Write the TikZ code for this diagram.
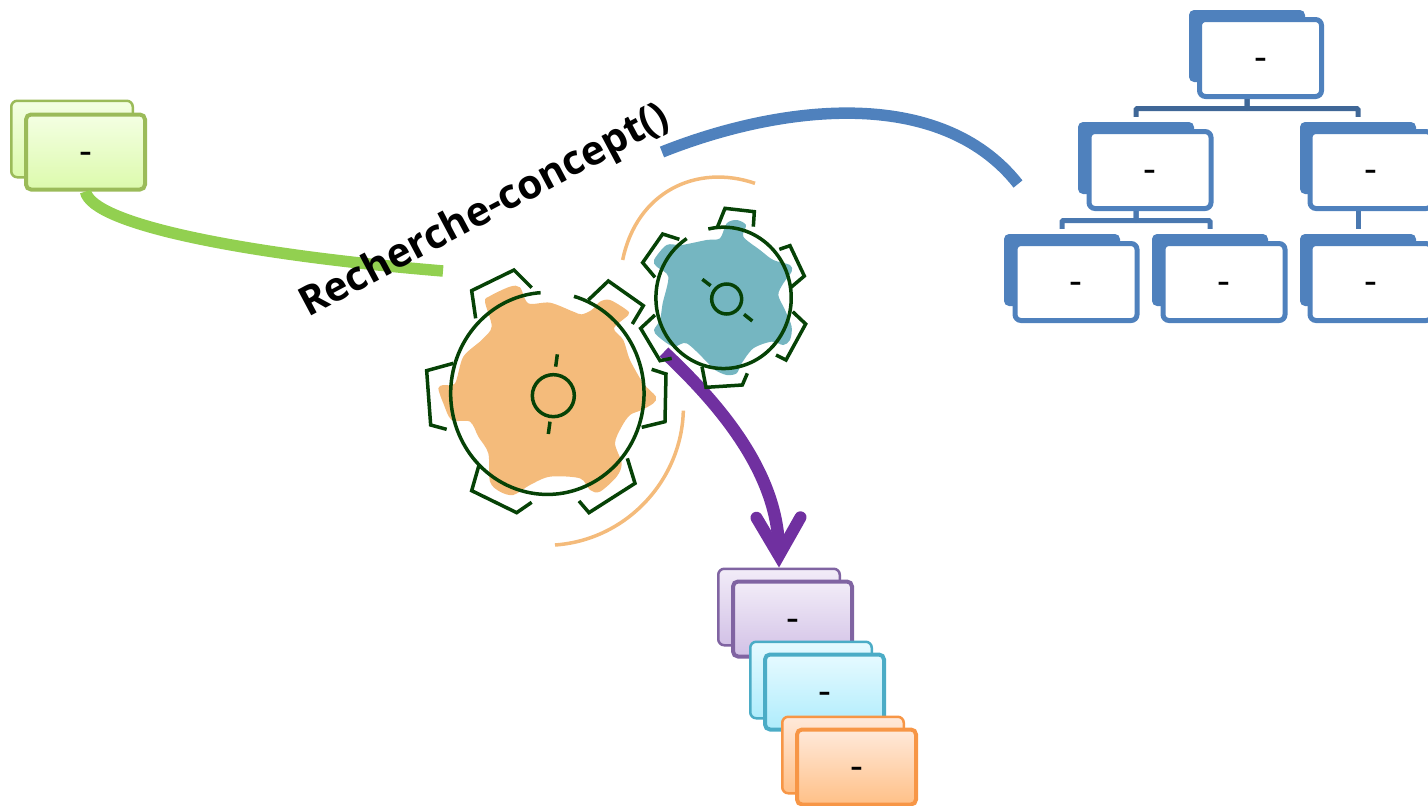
\documentclass[tikz,border=0pt]{standalone}
\usepackage{fontspec}
\setmainfont{Open Sans}
\usetikzlibrary{arrows.meta}
\definecolor{gearorange}{HTML}{F4BB7B}
\definecolor{gearteal}{HTML}{75B6C1}
\definecolor{gearline}{HTML}{064206}
\definecolor{linkgreen}{HTML}{92D050}
\definecolor{linkblue}{HTML}{4F81BD}
\definecolor{linkpurple}{HTML}{7030A0}
\definecolor{treedark}{HTML}{3F6797}
\definecolor{treelight}{HTML}{4A78B0}
\definecolor{greenedge}{HTML}{9BBB59}
\definecolor{greentop}{HTML}{F4FFE3}
\definecolor{greenbot}{HTML}{DCFAAC}
\definecolor{purpleedge}{HTML}{8064A2}
\definecolor{purpletop}{HTML}{F2ECF8}
\definecolor{purplebot}{HTML}{D2C1E6}
\definecolor{cyanedge}{HTML}{4BACC6}
\definecolor{cyantop}{HTML}{E6FAFF}
\definecolor{cyanbot}{HTML}{AEECFC}
\definecolor{orangeedge}{HTML}{F79646}
\definecolor{orangetop}{HTML}{FFE9DA}
\definecolor{orangebot}{HTML}{FFC087}
\tikzset{
  dashlabel/.style={font=\fontsize{40}{40}\selectfont,text height=24pt,text depth=0pt},
  cardback/.style n args={3}{draw=#1,top color=#2,bottom color=#3,line width=2.5pt,rounded corners=6pt,
    minimum width=121.5pt,minimum height=76.5pt,inner sep=0pt},
  cardfront/.style n args={3}{draw=#1,top color=#2,bottom color=#3,line width=4pt,rounded corners=5pt,
    minimum width=119pt,minimum height=75pt,inner sep=0pt,dashlabel},
  treeback/.style={fill=linkblue,rounded corners=5pt,minimum width=116pt,minimum height=72pt,inner sep=0pt},
  treefront/.style={draw=linkblue,fill=white,line width=5pt,rounded corners=6pt,
    minimum width=122pt,minimum height=77pt,inner sep=0pt,dashlabel},
  treelink/.style={line width=5pt,rounded corners=1pt,shorten >=5pt},
  gearstroke/.style={draw=gearline,line width=3.5pt},
  swing/.style={draw=gearorange,line width=3.5pt},
}
\begin{document}
\begin{tikzpicture}[x=1pt,y=-1pt]
  \useasboundingbox (0,0) rectangle (1428,806);

  \node[cardback={greenedge}{greentop}{greenbot}] (sourceback) at (72,139) {};
  \node[cardfront={greenedge}{greentop}{greenbot}] (sourcefront) at (85.5,152) {-};

  \node[treeback] (rootback) at (1247,46) {};
  \node[treeback] (leftback) at (1136,158) {};
  \node[treeback] (rightback) at (1358,158) {};
  \node[treeback] (leafoneback) at (1062,270) {};
  \node[treeback] (leaftwoback) at (1210,270) {};
  \node[treeback] (leafthreeback) at (1358,270) {};
  \draw[treelink,draw=treedark] (rootback.south) -- ++(0,26.5) -| (leftback.north);
  \draw[treelink,draw=treedark] (rootback.south) -- ++(0,26.5) -| (rightback.north);
  \draw[treelink,draw=treelight] (leftback.south) -- ++(0,26.5) -| (leafoneback.north);
  \draw[treelink,draw=treelight] (leftback.south) -- ++(0,26.5) -| (leaftwoback.north);
  \draw[treelink,draw=treelight] (rightback.south) -- (leafthreeback.north);
  \node[treefront] (rootfront) at (1260.5,58) {-};
  \node[treefront] (leftfront) at (1150,170) {-};
  \node[treefront] (rightfront) at (1371,170) {-};
  \node[treefront] (leafonefront) at (1076,282) {-};
  \node[treefront] (leaftwofront) at (1224,282) {-};
  \node[treefront] (leafthreefront) at (1371,282) {-};

  \node[cardback={purpleedge}{purpletop}{purplebot}] (purpleback) at (779,607) {};
  \node[cardfront={purpleedge}{purpletop}{purplebot}] (purplefront) at (792.5,619) {-};
  \node[cardback={cyanedge}{cyantop}{cyanbot}] (cyanback) at (811,680) {};
  \node[cardfront={cyanedge}{cyantop}{cyanbot}] (cyanfront) at (824.5,692) {-};
  \node[cardback={orangeedge}{orangetop}{orangebot}] (orangeback) at (843,755) {};
  \node[cardfront={orangeedge}{orangetop}{orangebot}] (orangefront) at (856.5,767) {-};

  \coordinate (greenend) at (443,271);
  \coordinate (blueleft) at (662,152);
  \coordinate (blueright) at (1018,184);
  \coordinate (purplestart) at (664,352);
  \draw[linkgreen,line width=11.5pt] (sourcefront.south) .. controls (92,225) and (250,255) .. (greenend);
  \draw[linkblue,line width=11.5pt] (blueleft) .. controls (780,105) and (940,85) .. (blueright);

  \begin{scope}[shift={(410,170)},scale=1/3]
    \fill[gearorange] plot[smooth cycle,tension=.5] coordinates {(225,395) (240,378) (300,350) (330,352) (355,400)
      (420,398) (490,425) (515,433) (545,420) (570,395) (600,390) (650,420) (655,435) (612,475) (640,510) (660,570)
      (700,640) (738,680) (730,700) (695,720) (660,735) (635,770) (615,820) (635,880) (620,920) (570,965) (540,960)
      (510,925) (420,920) (360,945) (310,975) (270,965) (240,935) (235,850) (205,800) (180,755) (125,750) (100,700)
      (85,655) (100,645) (135,640) (160,560) (215,510) (245,470)};
    \fill[gearteal] plot[smooth cycle,tension=.5] coordinates {(732,270) (770,225) (815,225) (890,210) (930,205)
      (950,160) (980,150) (1008,165) (1000,200) (1050,240) (1090,270) (1140,285) (1145,305) (1120,340) (1105,375)
      (1125,420) (1145,470) (1140,510) (1120,525) (1085,515) (1030,535) (995,580) (980,610) (950,615) (915,600)
      (890,575) (830,520) (790,530) (745,500) (732,480) (750,450) (758,400) (775,320) (740,290)};
  \end{scope}

  \draw[linkpurple,line width=12.5pt,-{Straight Barb[length=38pt,width=44pt,line width=12pt,line cap=round,line join=miter]}]
    (purplestart) .. controls (715,400) and (778,470) .. (purpleback.north);

  \begin{scope}[shift={(410,170)},scale=1/3]
    \draw[gearstroke] (492,379) arc[start angle=-74,end angle=266,x radius=290,y radius=303];
    \draw[gearstroke] (430,677) circle[radius=63];
    \draw[gearstroke] (442,553) -- (437,590);
    \draw[gearstroke] (420,755) -- (415,792);
    \draw[gearstroke] (197,445) -- (185,362) -- (312,300) -- (365,353);
    \draw[gearstroke] (535,390) -- (595,333) -- (700,407) -- (667,462);
    \draw[gearstroke] (725,598) -- (768,612) -- (765,755) -- (695,772);
    \draw[gearstroke] (652,865) -- (675,940) -- (537,1028) -- (507,993);
    \draw[gearstroke] (365,997) -- (320,1028) -- (185,962) -- (207,885);
    \draw[gearstroke] (110,778) -- (62,765) -- (50,602) -- (130,580);

    \draw[gearstroke] (895,177) arc[start angle=-103,end angle=237,x radius=203,y radius=212];
    \draw[gearstroke] (950,387) circle[radius=45];
    \draw[gearstroke] (877,328) -- (902,347);
    \draw[gearstroke] (1002,433) -- (1027,453);
    \draw[gearstroke] (922,172) -- (945,115) -- (1033,125) -- (1030,170);
    \draw[gearstroke] (1108,238) -- (1140,227) -- (1183,318) -- (1143,352);
    \draw[gearstroke] (1148,425) -- (1187,462) -- (1128,570) -- (1098,555);
    \draw[gearstroke] (1012,610) -- (997,645) -- (888,652) -- (876,590);
    \draw[gearstroke] (785,565) -- (750,572) -- (692,475) -- (735,435);
    \draw[gearstroke] (735,322) -- (698,278) -- (758,192) -- (808,208);

    \draw[swing] (638,270) .. controls (680,65) and (860,-20) .. (1035,40);
    \draw[swing] (820,722) .. controls (815,930) and (650,1110) .. (435,1125);
  \end{scope}

  \node[rotate=28,font=\bfseries\fontsize{40.5}{40.5}\selectfont,inner sep=0pt] (searchlabel) at (485,212) {Recherche-concept()};
\end{tikzpicture}
\end{document}
